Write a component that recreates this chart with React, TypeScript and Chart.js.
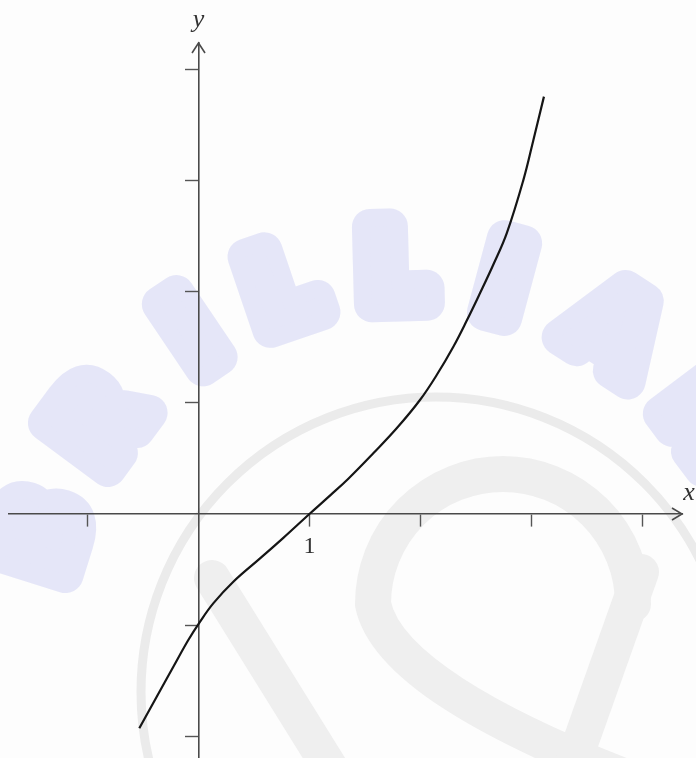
import React, { useEffect, useRef } from "react";
import { Chart, registerables } from "chart.js";

Chart.register(...registerables);

// Curve values
const CURVE_X = [-0.534, -0.377, -0.227, -0.092, 0.007, 0.133, 0.314, 0.555, 0.765, 1.0, 1.19, 1.351, 1.576, 1.787, 1.997, 2.148, 2.298, 2.418, 2.538, 2.658, 2.78, 2.93, 3.02, 3.115];
const CURVE_Y = [-1.93, -1.646, -1.376, -1.135, -0.98, -0.805, -0.61, -0.4, -0.215, 0, 0.17, 0.318, 0.547, 0.772, 1.027, 1.252, 1.507, 1.74, 1.988, 2.245, 2.53, 3.01, 3.37, 3.76];

const X_TICKS = [-1, 1, 2, 3, 4];
const X_TICK_LABELS = ["", "1", "", "", ""];
const Y_TICKS = [-2, -1, 1, 2, 3, 4];
const X_MIN = -1.709;
const X_MAX = 4.36;
const Y_MIN = -2.198;
const Y_MAX = 4.243;
const AXIS_TITLES = ["x", "y"];

const WATERMARK_LETTERS = ["B", "R", "I", "L", "L", "I", "A", "N", "T"];
const WATERMARK_ANGLES = [-72.5, -53.5, -34, -18.8, -1.5, 15, 33, 53, 71];

const W = 696;
const H = 758;

const backgroundPlugin = {
  id: "bgWatermark",
  beforeDraw(chart: any) {
    const ctx = chart.ctx as CanvasRenderingContext2D;
    ctx.save();
    ctx.fillStyle = "#fdfdfd";
    ctx.fillRect(0, 0, chart.width, chart.height);

    // grey logo
    ctx.strokeStyle = "#ebebeb";
    ctx.lineWidth = 9;
    ctx.beginPath();
    ctx.arc(436, 692, 295, 0, Math.PI * 2);
    ctx.stroke();

    ctx.strokeStyle = "#efefef";
    ctx.lineWidth = 36;
    ctx.lineCap = "round";
    ctx.beginPath();
    ctx.moveTo(212, 578);
    ctx.lineTo(350, 800);
    ctx.stroke();

    ctx.beginPath();
    ctx.moveTo(660, 790);
    ctx.quadraticCurveTo(390, 690, 373, 604);
    ctx.arc(503, 604, 130, Math.PI, Math.PI * 2, false);
    ctx.stroke();

    ctx.beginPath();
    ctx.moveTo(641, 572);
    ctx.lineTo(560, 800);
    ctx.stroke();

    // lavender letters
    ctx.fillStyle = "#e5e6f8";
    ctx.strokeStyle = "#e5e6f8";
    ctx.lineWidth = 36;
    ctx.lineJoin = "round";
    ctx.font = "bold 106px 'DejaVu Sans'";
    ctx.textAlign = "center";
    ctx.textBaseline = "middle";
    WATERMARK_LETTERS.forEach((ch, i) => {
      const a = (WATERMARK_ANGLES[i] * Math.PI) / 180;
      const x = 405 + 374 * Math.sin(a);
      const y = 650 - 374 * Math.cos(a);
      ctx.save();
      ctx.translate(x, y);
      ctx.rotate(a);
      ctx.strokeText(ch, 0, 0);
      ctx.fillText(ch, 0, 0);
      ctx.restore();
    });
    ctx.restore();
  },
};

const arrowPlugin = {
  id: "axisArrows",
  afterDraw(chart: any) {
    const ctx = chart.ctx as CanvasRenderingContext2D;
    const xs = chart.scales.x;
    const ys = chart.scales.y;
    const x0 = xs.getPixelForValue(0);
    const y0 = ys.getPixelForValue(0);
    const xr = xs.right;
    const yt = ys.top;
    ctx.save();
    ctx.strokeStyle = "#4a4a4a";
    ctx.lineWidth = 1.6;
    ctx.lineJoin = "miter";
    ctx.beginPath();
    ctx.moveTo(xr - 10, y0 - 6);
    ctx.lineTo(xr, y0);
    ctx.lineTo(xr - 10, y0 + 6);
    ctx.stroke();
    ctx.beginPath();
    ctx.moveTo(x0 - 6.5, yt + 10);
    ctx.lineTo(x0, yt);
    ctx.lineTo(x0 + 6.5, yt + 10);
    ctx.stroke();

    ctx.fillStyle = "#333";
    ctx.font = "italic 26px 'Liberation Serif'";
    ctx.textAlign = "center";
    ctx.textBaseline = "alphabetic";
    ctx.fillText(AXIS_TITLES[0], xr + 7, y0 - 14);
    ctx.fillText(AXIS_TITLES[1], x0, yt - 16);
    ctx.restore();
  },
};

export default function App() {
  const ref = useRef<HTMLCanvasElement | null>(null);

  useEffect(() => {
    document.body.style.margin = "0";
    const canvas = ref.current;
    if (!canvas) return;
    const chart = new Chart(canvas, {
      type: "line",
      data: {
        datasets: [
          {
            data: CURVE_X.map((x, i) => ({ x, y: CURVE_Y[i] })),
            borderColor: "#151515",
            borderWidth: 2.2,
            pointRadius: 0,
            fill: false,
            tension: 0.4,
          },
        ],
      },
      options: {
        responsive: false,
        animation: false,
        events: [],
        layout: { padding: { left: 9, right: W - 682, top: 43, bottom: 0 } },
        plugins: { legend: { display: false }, tooltip: { enabled: false } },
        scales: {
          x: {
            type: "linear",
            min: X_MIN,
            max: X_MAX,
            position: { y: 0 },
            afterBuildTicks: (s: any) => {
              s.ticks = X_TICKS.map((v) => ({ value: v }));
            },
            afterFit: (s: any) => {
              s.height = 0;
            },
            border: { display: true, color: "#4a4a4a", width: 1.6 },
            grid: {
              display: true,
              drawOnChartArea: false,
              drawTicks: true,
              tickLength: 12,
              tickWidth: 1.4,
              tickColor: "#555",
            },
            ticks: {
              autoSkip: false,
              maxRotation: 0,
              padding: 6,
              color: "#333",
              font: { family: "'Liberation Serif'", size: 24 },
              callback: (_v: any, i: number) => X_TICK_LABELS[i],
            },
          },
          y: {
            type: "linear",
            min: Y_MIN,
            max: Y_MAX,
            position: { x: 0 },
            afterBuildTicks: (s: any) => {
              s.ticks = Y_TICKS.map((v) => ({ value: v }));
            },
            afterFit: (s: any) => {
              s.width = 0;
            },
            border: { display: true, color: "#4a4a4a", width: 1.6 },
            grid: {
              display: true,
              drawOnChartArea: false,
              drawTicks: true,
              tickLength: 13,
              tickWidth: 1.4,
              tickColor: "#555",
            },
            ticks: { display: false },
          },
        },
      },
      plugins: [backgroundPlugin, arrowPlugin],
    } as any);
    return () => chart.destroy();
  }, []);

  return (
    <div style={{ width: W, height: H }}>
      <canvas ref={ref} width={W} height={H} style={{ display: "block" }} />
    </div>
  );
}
